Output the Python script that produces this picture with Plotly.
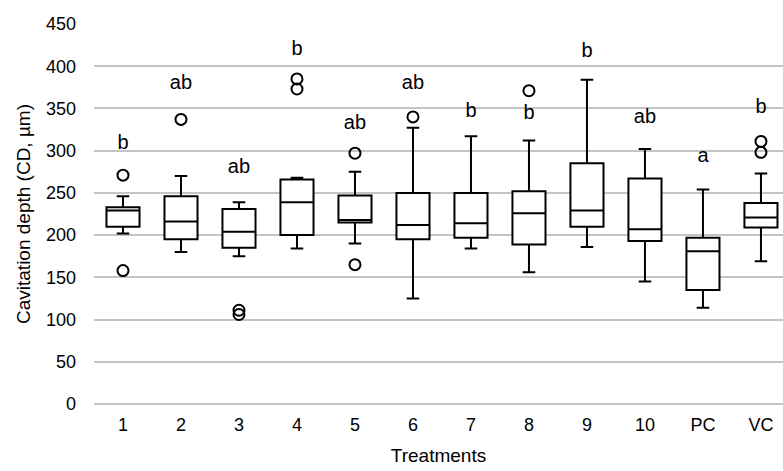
import plotly.graph_objects as go

categories = ["1", "2", "3", "4", "5", "6", "7", "8", "9", "10", "PC", "VC"]
lower_whisker = [202, 180, 175, 184, 190, 125, 184, 156, 186, 145, 114, 169]
q1_values = [210, 195, 185, 200, 215, 195, 197, 189, 210, 193, 135, 209]
median_values = [229, 216, 204, 239, 218, 212, 214, 226, 229, 207, 181, 221]
q3_values = [233, 246, 231, 266, 247, 250, 250, 252, 285, 267, 197, 238]
upper_whisker = [246, 270, 239, 268, 275, 327, 317, 312, 384, 302, 254, 273]

outlier_cats = ["1", "1", "2", "3", "3", "4", "4", "5", "5", "6", "8", "VC", "VC"]
outlier_vals = [271, 158, 337, 111, 106, 385, 373, 297, 165, 340, 371, 311, 298]

letters = ["b", "ab", "ab", "b", "ab", "ab", "b", "b", "b", "ab", "a", "b"]
letter_y = [308, 379, 279, 419, 332, 379, 346, 344, 417, 339, 293, 351]

font_family = "Liberation Sans, Arial, sans-serif"
grid_color = "#c4c4c4"

fig = go.Figure()

fig.add_trace(go.Box(
    x=categories,
    q1=q1_values,
    median=median_values,
    q3=q3_values,
    lowerfence=lower_whisker,
    upperfence=upper_whisker,
    boxpoints=False,
    fillcolor="white",
    line=dict(color="black", width=2),
    whiskerwidth=0.38,
    width=0.57,
    showlegend=False,
    hoverinfo="skip",
))

fig.add_trace(go.Scatter(
    x=outlier_cats,
    y=outlier_vals,
    mode="markers",
    marker=dict(symbol="circle-open", size=11, color="black", line=dict(width=2, color="black")),
    showlegend=False,
    hoverinfo="skip",
))

fig.add_trace(go.Scatter(
    x=categories,
    y=letter_y,
    mode="text",
    text=letters,
    textposition="middle center",
    textfont=dict(family=font_family, size=20, color="black"),
    showlegend=False,
    hoverinfo="skip",
))

fig.update_layout(
    width=783,
    height=471,
    margin=dict(l=94, r=0, t=24, b=67),
    paper_bgcolor="white",
    plot_bgcolor="white",
    font=dict(family=font_family, size=18, color="black"),
    xaxis=dict(
        type="category",
        categoryorder="array",
        categoryarray=categories,
        range=[-0.5, 11.38],
        showgrid=False,
        showline=False,
        zeroline=False,
        ticks="",
        ticklabelstandoff=8,
        tickfont=dict(size=18, color="black"),
        title=dict(text="Treatments", font=dict(size=19, color="black"), standoff=14),
    ),
    yaxis=dict(
        range=[0, 450],
        tickvals=[0, 50, 100, 150, 200, 250, 300, 350, 400, 450],
        showgrid=True,
        gridcolor=grid_color,
        gridwidth=1.5,
        zeroline=True,
        zerolinecolor=grid_color,
        zerolinewidth=1.5,
        showline=False,
        ticks="",
        ticklabelstandoff=17,
        tickfont=dict(size=18, color="black"),
        title=dict(text="Cavitation depth (CD, µm)", font=dict(size=19, color="black"), standoff=10),
    ),
)

fig.write_html(
    "out.html",
    config={"displayModeBar": False},
    post_script="document.body.style.margin='0';",
)
